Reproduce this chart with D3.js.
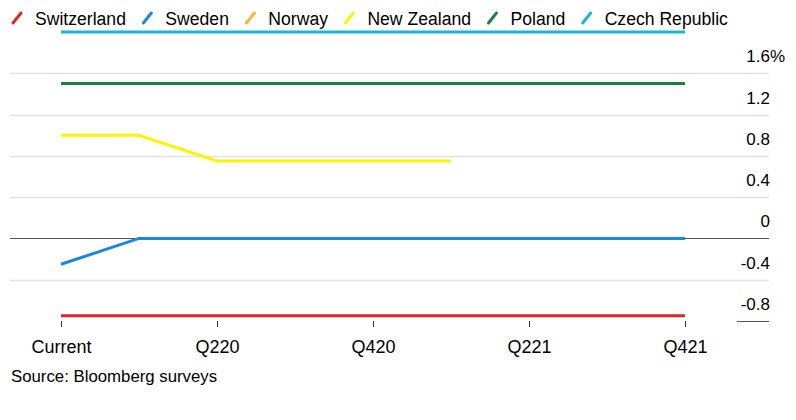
<!DOCTYPE html>
<html>
<head>
<meta charset="utf-8">
<script src="https://cdn.jsdelivr.net/npm/d3@7"></script>
<style>
  html, body { margin: 0; padding: 0; background: #fff; }
  svg { display: block; font-family: "Liberation Sans", Arial, sans-serif; }
</style>
</head>
<body>
<svg id="chart" width="796" height="420"></svg>
<script>
const periods = ["Current","Q120","Q220","Q320","Q420","Q121","Q221","Q321","Q421"];
const xTickLabels = ["Current","Q220","Q420","Q221","Q421"];
const yTicks = [-0.8, -0.4, 0, 0.4, 0.8, 1.2, 1.6];

const seriesNames = ["Switzerland","Sweden","Norway","New Zealand","Poland","Czech Republic"];
const seriesColors = ["#e1262b","#1a88dc","#f7b53b","#faf500","#1a8040","#1bb6d4"];
const switzerland = [-0.75,-0.75,-0.75,-0.75,-0.75,-0.75,-0.75,-0.75,-0.75];
const sweden      = [-0.25,0,0,0,0,0,0,0,0];
const norway      = [1.5,1.5,1.5,1.5,1.5,1.5,1.5,1.5,1.5];
const newZealand  = [1.0,1.0,0.75,0.75,0.75,0.75,null,null,null];
const poland      = [1.5,1.5,1.5,1.5,1.5,1.5,1.5,1.5,1.5];
const czech       = [2.0,2.0,2.0,2.0,2.0,2.0,2.0,2.0,2.0];
const seriesValues = [switzerland, sweden, norway, newZealand, poland, czech];

const svg = d3.select("#chart");
const x = d3.scalePoint().domain(periods).range([61, 685]);
const y = d3.scaleLinear().domain([-0.8, 1.6]).range([321, 73.3]);
const gridX0 = 10, gridX1 = 769;

// gridlines
const grid = svg.append("g");
yTicks.forEach(t => {
  const yy = Math.round(y(t)) + 0.5;
  if (t === -0.8) {
    grid.append("line").attr("x1", 737).attr("x2", gridX1)
      .attr("y1", yy).attr("y2", yy).attr("stroke", "#555").attr("stroke-width", 1);
  } else if (t === 0) {
    grid.append("line").attr("x1", gridX0).attr("x2", gridX1)
      .attr("y1", yy).attr("y2", yy).attr("stroke", "#555").attr("stroke-width", 1);
  } else {
    grid.append("line").attr("x1", gridX0).attr("x2", gridX1)
      .attr("y1", yy).attr("y2", yy).attr("stroke", "#e2e2e2").attr("stroke-width", 1.5);
  }
});

// y labels (hyphen minus as in the reference)
const fmt = d => (d === 0 ? "0" : d.toFixed(1));
yTicks.forEach(t => {
  svg.append("text").attr("x", 770).attr("y", y(t) - 11)
    .attr("text-anchor", "end").attr("font-size", 17).attr("fill", "#000")
    .text(fmt(t));
  if (t === 1.6) {
    svg.append("text").attr("x", 770).attr("y", y(t) - 11)
      .attr("text-anchor", "start").attr("font-size", 17).attr("fill", "#000")
      .text("%");
  }
});

// x axis ticks + labels
const xAxis = d3.axisBottom(x).tickValues(xTickLabels).tickSize(6).tickPadding(10);
const xg = svg.append("g").attr("transform", "translate(0,321)").call(xAxis);
xg.select(".domain").remove();
xg.selectAll(".tick line").attr("stroke", "#333");
xg.selectAll(".tick text").attr("font-size", 18).attr("fill", "#000")
  .attr("font-family", "Liberation Sans, Arial, sans-serif").attr("dy", "0.9em");

// lines
const line = d3.line()
  .defined(d => d.v !== null)
  .x(d => x(d.p)).y(d => y(d.v));
seriesValues.forEach((vals, i) => {
  const data = periods.map((p, j) => ({ p, v: vals[j] }));
  svg.append("path").datum(data).attr("d", line)
    .attr("fill", "none").attr("stroke", seriesColors[i]).attr("stroke-width", 3);
});

// legend
let lx = 12;
const leg = svg.append("g");
seriesNames.forEach((n, i) => {
  leg.append("line").attr("x1", lx + 1).attr("y1", 23).attr("x2", lx + 9).attr("y2", 13)
    .attr("stroke", seriesColors[i]).attr("stroke-width", 3).attr("stroke-linecap", "round");
  const t = leg.append("text").attr("x", lx + 23).attr("y", 25)
    .attr("font-size", 17.6).attr("fill", "#000").text(n);
  const w = t.node().getComputedTextLength();
  lx = lx + 23 + w + 16.4;
});

// source
svg.append("text").attr("x", 11).attr("y", 382).attr("font-size", 16.8)
  .attr("fill", "#000").text("Source: Bloomberg surveys");
</script>
</body>
</html>
